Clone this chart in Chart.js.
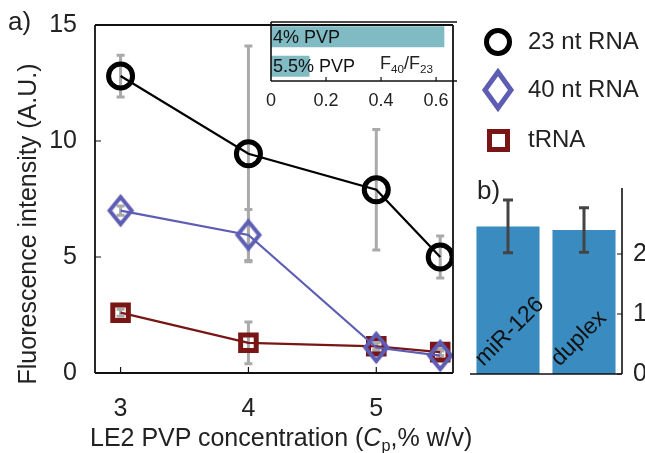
<!DOCTYPE html>
<html>
<head>
<meta charset="utf-8">
<script src="https://cdn.jsdelivr.net/npm/chart.js@4.4.0/dist/chart.umd.min.js"></script>
<style>
  body { margin: 0; background: #fff; font-family: "Liberation Sans", Arial, sans-serif; color: #222; }
  #wrap { position: relative; width: 645px; height: 453px; overflow: hidden; }
  .abs { position: absolute; }
  .lbl { position: absolute; white-space: nowrap; line-height: 1; }
  .leg { position: absolute; left: 528px; font-size: 24px; line-height: 1; }
  sub { font-size: 0.65em; vertical-align: -0.3em; }
  #ytitle { position: absolute; left: -173px; top: 211px; width: 400px; height: 26px; line-height: 26px;
            text-align: center; font-size: 25px; transform: rotate(-90deg); white-space: nowrap; }
</style>
</head>
<body>
<div id="wrap">
  <div class="abs" style="left:0;top:0;width:470px;height:453px"><canvas id="mainChart"></canvas></div>
  <div class="abs" style="left:240px;top:0;width:225px;height:110px"><canvas id="insetChart"></canvas></div>
  <div class="abs" style="left:455px;top:170px;width:190px;height:230px"><canvas id="barChart"></canvas></div>

  <div class="lbl" style="left:8px;top:8px;font-size:26px">a)</div>
  <div class="lbl" style="left:477px;top:177px;font-size:26px">b)</div>
  <div class="lbl" style="left:380px;top:54px;font-size:18px">F<sub>40</sub>/F<sub>23</sub></div>
  <div class="lbl" style="left:90px;top:425px;font-size:25px">LE2 PVP concentration (<i>C</i><sub>p</sub>,% w/v)</div>
  <div id="ytitle">Fluorescence intensity (A.U.)</div>

  <div id="legend"></div>
</div>

<script>
// main panel a)
const conc = [3, 4, 5, 5.5];
const rna23 = [12.8, 9.45, 7.9, 5.0];
const rna23Err = [0.9, 4.65, 2.6, 0.9];
const rna40 = [7.0, 5.95, 1.1, 0.75];
const rna40Err = [0.2, 1.1, 0.2, 0.2];
const trna = [2.6, 1.3, 1.15, 0.9];
const trnaErr = [0.15, 0.9, 0.15, 0.15];
const yTicks = [0, 5, 10, 15];
const xTicks = [3, 4, 5];

// inset
const pvpLabels = ['4% PVP', '5.5% PVP'];
const ratio = [0.63, 0.14];
const insetTicks = [0, 0.2, 0.4, 0.6];

// panel b)
const bLabels = ['miR-126', 'duplex'];
const bValues = [2.46, 2.4];
const bErr = [0.44, 0.37];
const bTicks = [0, 1, 2];

const seriesNames = ['23 nt RNA', '40 nt RNA', 'tRNA'];
const blue = '#5d5db4';
const red = '#7a1515';
const FONT = '"Liberation Sans", Arial, sans-serif';

// tall diamond marker
function diamond(w, h, lw, col) {
  const c = document.createElement('canvas');
  c.width = w + lw * 2; c.height = h + lw * 2;
  const g = c.getContext('2d');
  const cx = c.width / 2, cy = c.height / 2;
  g.strokeStyle = col; g.lineWidth = lw; g.lineJoin = 'miter';
  g.beginPath();
  g.moveTo(cx, cy - h / 2); g.lineTo(cx + w / 2, cy); g.lineTo(cx, cy + h / 2); g.lineTo(cx - w / 2, cy);
  g.closePath(); g.stroke();
  return c;
}

function drawErr(chart, opts) {
  const ctx = chart.ctx;
  ctx.save();
  chart.data.datasets.forEach((ds, i) => {
    if (!ds.errors) return;
    const meta = chart.getDatasetMeta(i);
    const vs = chart.scales.y;
    ds.errors.forEach((e, j) => {
      const el = meta.data[j];
      const v = ds.data[j] && ds.data[j].y !== undefined ? ds.data[j].y : ds.data[j];
      const x = el.x;
      const y1 = vs.getPixelForValue(v + e), y2 = vs.getPixelForValue(v - e);
      ctx.strokeStyle = opts.color; ctx.lineWidth = opts.width;
      ctx.beginPath();
      ctx.moveTo(x, y1); ctx.lineTo(x, y2);
      ctx.moveTo(x - opts.cap, y1); ctx.lineTo(x + opts.cap, y1);
      ctx.moveTo(x - opts.cap, y2); ctx.lineTo(x + opts.cap, y2);
      ctx.stroke();
    });
  });
  ctx.restore();
}

const errBars = {
  id: 'errBars',
  beforeDatasetsDraw(chart, args, opts) { if (!opts.front) drawErr(chart, opts); },
  afterDatasetsDraw(chart, args, opts) { if (opts.front) drawErr(chart, opts); }
};

// frame with inward ticks, MATLAB style
const frame = {
  id: 'frame',
  afterDraw(chart, args, opts) {
    const { ctx, chartArea: a } = chart;
    ctx.save();
    ctx.strokeStyle = '#111'; ctx.lineWidth = opts.lw || 1.8;
    ctx.beginPath();
    (opts.sides || 'lbtr').split('').forEach(s => {
      if (s === 'l') { ctx.moveTo(a.left, a.top); ctx.lineTo(a.left, a.bottom); }
      if (s === 'r') { ctx.moveTo(a.right, a.top); ctx.lineTo(a.right, a.bottom); }
      if (s === 't') { ctx.moveTo(a.left, a.top); ctx.lineTo(a.right, a.top); }
      if (s === 'b') { ctx.moveTo(a.left, a.bottom); ctx.lineTo(a.right, a.bottom); }
    });
    ctx.stroke();
    ctx.lineWidth = 1.2;
    ctx.beginPath();
    (opts.xt || []).forEach(t => {
      const x = chart.scales.x.getPixelForValue(t);
      ctx.moveTo(x, a.bottom); ctx.lineTo(x, a.bottom - opts.len);
    });
    (opts.yt || []).forEach(t => {
      const y = chart.scales.y.getPixelForValue(t);
      if (opts.yRight) { ctx.moveTo(a.right, y); ctx.lineTo(a.right - opts.len, y); }
      else { ctx.moveTo(a.left, y); ctx.lineTo(a.left + opts.len, y); }
    });
    ctx.stroke();
    ctx.restore();
  }
};

function pts(ys) { return conc.map((x, i) => ({ x: x, y: ys[i] })); }

new Chart(document.getElementById('mainChart'), {
  type: 'line',
  data: {
    datasets: [
      { label: seriesNames[0], data: pts(rna23), errors: rna23Err, borderColor: '#000', borderWidth: 2.2,
        pointStyle: 'circle', pointRadius: 12, pointBorderWidth: 5, pointBorderColor: '#000', pointBackgroundColor: 'rgba(0,0,0,0)' },
      { label: seriesNames[1], data: pts(rna40), errors: rna40Err, borderColor: blue, borderWidth: 2.2,
        pointStyle: diamond(22, 27, 4, blue), pointRadius: 14 },
      { label: seriesNames[2], data: pts(trna), errors: trnaErr, borderColor: red, borderWidth: 2.2,
        pointStyle: 'rect', pointRadius: 11, pointBorderWidth: 5, pointBorderColor: red, pointBackgroundColor: 'rgba(0,0,0,0)' }
    ]
  },
  options: {
    responsive: true, maintainAspectRatio: false, animation: false,
    layout: { padding: { top: 22, right: 13 } },
    plugins: {
      legend: { display: false }, tooltip: { enabled: false },
      errBars: { color: '#aaaaaa', width: 3, cap: 4 },
      frame: { xt: xTicks, yt: [5, 10], len: 6 }
    },
    scales: {
      x: {
        type: 'linear', min: 2.8, max: 5.6,
        afterBuildTicks: s => { s.ticks = xTicks.map(v => ({ value: v })); },
        afterFit: s => { s.height = 80; },
        grid: { display: false }, border: { display: false },
        ticks: { color: '#222', padding: 13, font: { family: FONT, size: 25 } }
      },
      y: {
        min: 0, max: 15,
        afterBuildTicks: s => { s.ticks = yTicks.map(v => ({ value: v })); },
        afterFit: s => { s.width = 95; },
        grid: { display: false }, border: { display: false },
        ticks: { color: '#222', padding: 10, font: { family: FONT, size: 25 } }
      }
    }
  },
  plugins: [errBars, frame]
});

// inset: F40/F23 ratio
const barText = {
  id: 'barText',
  afterDatasetsDraw(chart) {
    const { ctx, chartArea: a } = chart;
    const meta = chart.getDatasetMeta(0);
    ctx.save();
    ctx.fillStyle = '#111';
    ctx.font = '18px ' + FONT;
    ctx.textBaseline = 'middle';
    meta.data.forEach((el, i) => ctx.fillText(pvpLabels[i], a.left + 2, el.y + 1));
    ctx.restore();
  }
};

new Chart(document.getElementById('insetChart'), {
  type: 'bar',
  data: {
    labels: pvpLabels,
    datasets: [{ data: ratio, backgroundColor: '#80bbc3', barPercentage: 0.72, categoryPercentage: 1 }]
  },
  options: {
    indexAxis: 'y', responsive: true, maintainAspectRatio: false, animation: false,
    layout: { padding: { top: 22, left: 31, right: 8 } },
    plugins: {
      legend: { display: false }, tooltip: { enabled: false },
      frame: { sides: 'lbt', xt: insetTicks.slice(1), len: 4, lw: 1.6 }
    },
    scales: {
      x: {
        min: 0, max: 0.676,
        afterBuildTicks: s => { s.ticks = insetTicks.map(v => ({ value: v })); },
        afterFit: s => { s.height = 29; },
        grid: { display: false }, border: { display: false },
        ticks: { color: '#222', padding: 1, font: { family: FONT, size: 18 } }
      },
      y: { display: false }
    }
  },
  plugins: [frame, barText]
});

// panel b)
const rotText = {
  id: 'rotText',
  afterDatasetsDraw(chart) {
    const { ctx, chartArea: a } = chart;
    const meta = chart.getDatasetMeta(0);
    ctx.save();
    ctx.fillStyle = '#111';
    ctx.font = '23px ' + FONT;
    meta.data.forEach((el, i) => {
      ctx.save();
      ctx.translate(el.x - el.width / 2 + 7, a.bottom - 7);
      ctx.rotate(-Math.PI / 4);
      ctx.fillText(bLabels[i], 0, 0);
      ctx.restore();
    });
    ctx.restore();
  }
};

new Chart(document.getElementById('barChart'), {
  type: 'bar',
  data: {
    labels: bLabels,
    datasets: [{ data: bValues, errors: bErr, backgroundColor: '#3a8cc0', barPercentage: 0.83, categoryPercentage: 1 }]
  },
  options: {
    responsive: true, maintainAspectRatio: false, animation: false,
    layout: { padding: { top: 17, left: 15, bottom: 26 } },
    plugins: {
      legend: { display: false }, tooltip: { enabled: false },
      errBars: { color: '#444', width: 3, cap: 5, front: true },
      frame: { sides: 'rb', yt: bTicks, yRight: true, len: 5, lw: 1.6 }
    },
    scales: {
      x: { display: false },
      y: {
        position: 'right', min: 0, max: 3.1,
        afterBuildTicks: s => { s.ticks = bTicks.map(v => ({ value: v })); },
        afterFit: s => { s.width = 23; },
        grid: { display: false }, border: { display: false },
        ticks: { color: '#222', padding: 3, font: { family: FONT, size: 25 } }
      }
    }
  },
  plugins: [errBars, frame, rotText]
});

// legend
const legend = document.getElementById('legend');
const legY = [42, 90, 140];
const marks = [
  '<div class="abs" style="left:484px;top:28px;width:18px;height:18px;border:5px solid #000;border-radius:50%"></div>',
  '',
  '<div class="abs" style="left:487px;top:129px;width:13px;height:13px;border:5px solid ' + red + '"></div>'
];
seriesNames.forEach((n, i) => {
  legend.insertAdjacentHTML('beforeend', marks[i] +
    '<div class="leg" style="top:' + (legY[i] - 13) + 'px">' + n + '</div>');
});
const dm = diamond(26, 36, 5, blue);
dm.className = 'abs';
dm.style.left = (498 - dm.width / 2) + 'px';
dm.style.top = (90 - dm.height / 2) + 'px';
legend.appendChild(dm);
</script>
</body>
</html>
